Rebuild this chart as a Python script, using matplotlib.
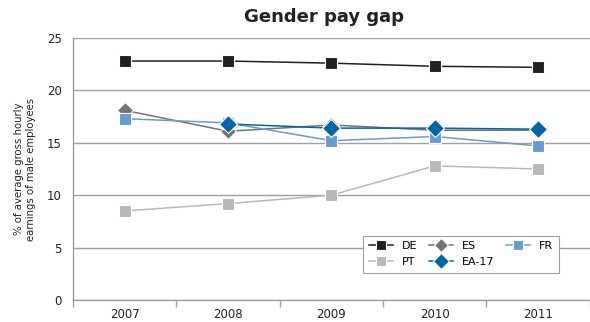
import matplotlib
matplotlib.use("Agg")
import matplotlib.pyplot as plt
import numpy as np

years = ["2007", "2008", "2009", "2010", "2011"]
de = [22.8, 22.8, 22.6, 22.3, 22.2]
es = [18.1, 16.1, 16.7, 16.2, 16.2]
fr = [17.3, 16.9, 15.2, 15.6, 14.7]
pt = [8.5, 9.2, 10.0, 12.8, 12.5]
ea17 = [np.nan, 16.8, 16.4, 16.4, 16.3]

series = [
    ("DE", de, "#231f20", "s", 8),
    ("ES", es, "#737373", "D", 8),
    ("FR", fr, "#6a9bd0", "s", 8),
    ("PT", pt, "#b8b8b8", "s", 8),
    ("EA-17", ea17, "#0066a6", "D", 9),
]

fig = plt.figure(figsize=(5.9, 3.22), dpi=100)
ax = fig.add_axes([0.1237, 0.0683, 0.876, 0.8137])

x = np.arange(len(years))
handles = {}
for name, vals, col, mk, ms in series:
    h, = ax.plot(x, vals, color=col, lw=1.1, marker=mk, markersize=ms,
                 markeredgecolor="white", markeredgewidth=0.8, label=name, zorder=3)
    handles[name] = h

ax.set_ylim(0, 25)
ax.set_yticks([0, 5, 10, 15, 20, 25])
ax.set_xlim(-0.5, 4.47)
ax.set_xticks(x)
ax.set_xticklabels(years)
ax.set_xticks(np.arange(-0.5, 4.6, 1), minor=True)
ax.tick_params(axis="x", which="major", length=0, labelsize=8.5, colors="#222222", pad=6)
ax.tick_params(axis="x", which="minor", length=5, color="#a0a0a0", width=1)
ax.tick_params(axis="y", length=0, labelsize=8.5, colors="#222222", pad=8)
ax.yaxis.grid(True, color="#a0a0a0", lw=1)
ax.set_axisbelow(True)
for s in ["top", "right"]:
    ax.spines[s].set_visible(False)
ax.spines["left"].set_color("#a0a0a0")
ax.spines["bottom"].set_color("#a0a0a0")
ax.spines["left"].set_linewidth(1)
ax.spines["bottom"].set_linewidth(1)

ax.set_ylabel("% of average gross hourly\nearnings of male employees",
              fontsize=7.3, color="#222222", labelpad=8)
fig.suptitle("Gender pay gap", x=0.55, y=0.975, fontsize=13, fontweight="bold",
             color="#222222")

order = ["DE", "PT", "ES", "EA-17", "FR"]
leg = ax.legend([handles[n] for n in order], order, ncol=3, loc="upper left",
                bbox_to_anchor=(0.551, 0.267), fontsize=8, frameon=True,
                fancybox=False, edgecolor="#a0a0a0", framealpha=1,
                handlelength=2.2, handletextpad=0.8, columnspacing=1.0,
                markerscale=0.85, borderpad=0.5, labelspacing=0.55)
leg.get_frame().set_linewidth(0.8)

fig.savefig("out.png", dpi=100)
